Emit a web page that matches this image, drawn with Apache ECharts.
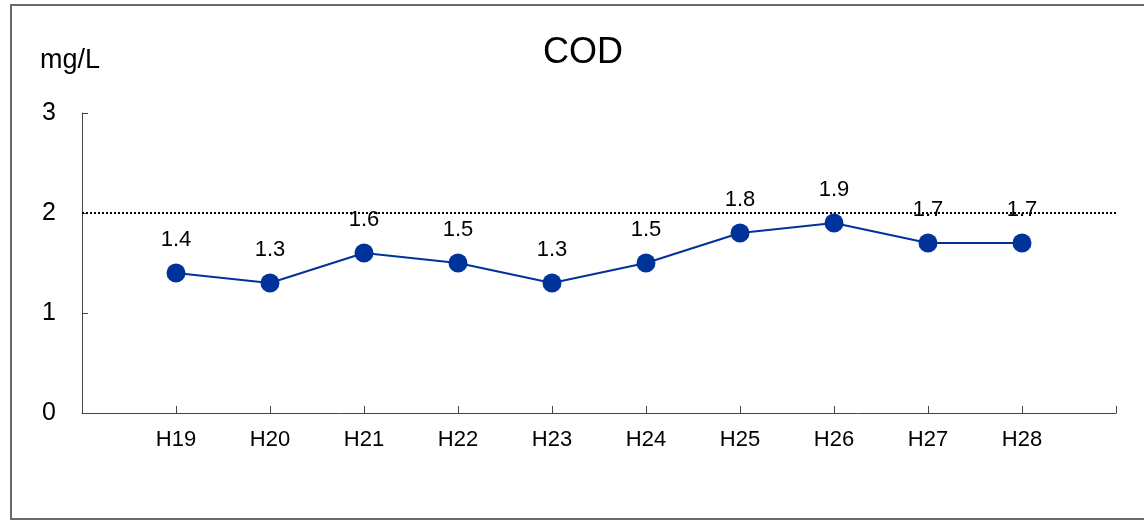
<!DOCTYPE html>
<html>
<head>
<meta charset="utf-8">
<script src="https://cdn.jsdelivr.net/npm/echarts@6/dist/echarts.min.js"></script>
<style>
  html, body { margin: 0; padding: 0; background: #fff; }
  #chart { width: 1144px; height: 522px; }
</style>
</head>
<body>
<div id="chart"></div>
<script>
// categories padded with blank slots at both ends (axis runs past H19 / H28)
const years = ['', 'H19', 'H20', 'H21', 'H22', 'H23', 'H24', 'H25', 'H26', 'H27', 'H28', ''];
const codValues = [null, 1.4, 1.3, 1.6, 1.5, 1.3, 1.5, 1.8, 1.9, 1.7, 1.7, null];
const yTicks = [0, 1, 2, 3];
const standardLine = 2;

const font = '"Liberation Sans", Arial, sans-serif';
const chart = echarts.init(document.getElementById('chart'));

const option = {
  backgroundColor: '#fff',
  animation: false,
  graphic: [
    {
      type: 'polyline',
      shape: { points: [[1150, 5], [11, 5], [11, 519], [1150, 519]] },
      style: { stroke: '#6a6a6a', lineWidth: 2, fill: null },
      silent: true
    },
    {
      type: 'text',
      x: 583,
      y: 35,
      style: {
        text: 'COD', fontFamily: font, fontSize: 36, fill: '#000',
        textAlign: 'center', textVerticalAlign: 'top'
      }
    },
    {
      type: 'text',
      left: 40,
      top: 47,
      style: { text: 'mg/L', fontFamily: font, fontSize: 27, fill: '#000' }
    }
  ],
  grid: { left: 82, right: 28, top: 113, bottom: 109 },
  xAxis: {
    type: 'category',
    data: years,
    boundaryGap: false,
    axisLine: { lineStyle: { color: '#444', width: 1 } },
    axisTick: { inside: true, length: 7, lineStyle: { color: '#444' } },
    axisLabel: {
      interval: 0,
      margin: 16,
      fontFamily: font,
      fontSize: 22,
      color: '#000'
    },
    splitLine: { show: false }
  },
  yAxis: {
    type: 'value',
    min: yTicks[0],
    max: yTicks[yTicks.length - 1],
    interval: 1,
    axisLine: { show: true, lineStyle: { color: '#444', width: 1 } },
    axisTick: { show: true, inside: true, length: 6, lineStyle: { color: '#444' } },
    axisLabel: { margin: 26, fontFamily: font, fontSize: 25, color: '#000' },
    splitLine: { show: false }
  },
  series: [
    {
      type: 'line',
      data: codValues,
      connectNulls: false,
      symbol: 'circle',
      symbolSize: 19,
      itemStyle: { color: '#003399' },
      lineStyle: { color: '#003399', width: 2 },
      label: {
        show: true,
        position: 'top',
        distance: 13,
        fontFamily: font,
        fontSize: 22,
        color: '#000',
        formatter: p => p.value.toFixed(1)
      },
      markLine: {
        silent: true,
        symbol: 'none',
        label: { show: false },
        lineStyle: { color: '#000', type: [2, 2], width: 2 },
        data: [{ yAxis: standardLine }]
      },
      z: 3
    }
  ]
};

chart.setOption(option);
</script>
</body>
</html>
